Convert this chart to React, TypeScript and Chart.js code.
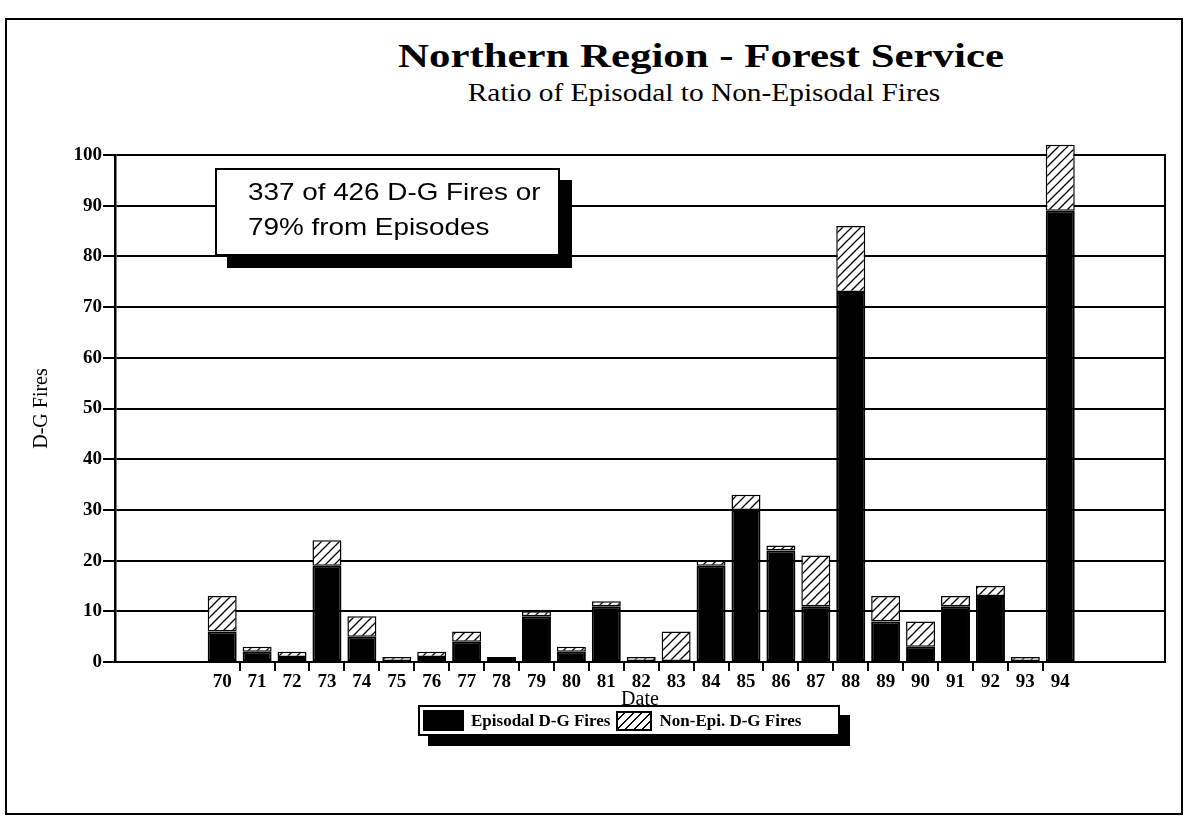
import React, { useEffect, useRef } from 'react';
import { Chart, registerables } from 'chart.js';

Chart.register(...registerables);

// ---- data ----
const YEARS = [70, 71, 72, 73, 74, 75, 76, 77, 78, 79, 80, 81, 82, 83, 84, 85, 86, 87, 88, 89, 90, 91, 92, 93, 94];
const EPISODAL = [6, 2, 1, 19, 5, 0, 1, 4, 1, 9, 2, 11, 0, 0, 19, 30, 22, 11, 73, 8, 3, 11, 13, 0, 89];
const NON_EPISODAL = [7, 1, 1, 5, 4, 1, 1, 2, 0, 1, 1, 1, 1, 6, 1, 3, 1, 10, 13, 5, 5, 2, 2, 1, 13];
const SERIES_LABELS = ['Episodal D-G Fires', 'Non-Epi. D-G Fires'];
const Y_MIN = 0;
const Y_MAX = 100;
const Y_STEP = 10;
const X_MIN = 66.93;
const X_MAX = 97;
const TITLE = 'Northern Region - Forest Service';
const SUBTITLE = 'Ratio of Episodal to Non-Episodal Fires';
const NOTE_LINES = ['337 of 426 D-G Fires or', '79% from Episodes'];
const X_TITLE = 'Date';
const Y_TITLE = 'D-G Fires';

const SERIF = "'Liberation Serif', 'Times New Roman', serif";
const SANS = "'Liberation Sans', Arial, sans-serif";

function makeHatch(): CanvasPattern | string {
  const s = 9;
  const c = document.createElement('canvas');
  c.width = s;
  c.height = s;
  const g = c.getContext('2d');
  if (!g) return '#fff';
  g.fillStyle = '#fff';
  g.fillRect(0, 0, s, s);
  g.strokeStyle = '#000';
  g.lineWidth = 1.3;
  g.beginPath();
  g.moveTo(-1, s + 1);
  g.lineTo(s + 1, -1);
  g.moveTo(-2, 2);
  g.lineTo(2, -2);
  g.moveTo(s - 2, s + 2);
  g.lineTo(s + 2, s - 2);
  g.stroke();
  return g.createPattern(c, 'repeat') || '#fff';
}

const HATCH_CSS = 'repeating-linear-gradient(-45deg, #fff 0px, #fff 4.5px, #000 4.5px, #000 6px)';

export default function App() {
  const ref = useRef<HTMLCanvasElement>(null);

  useEffect(() => {
    const canvas = ref.current;
    if (!canvas) return;
    const hatch = makeHatch();
    const chart = new Chart(canvas, {
      type: 'bar',
      data: {
        datasets: [
          {
            label: SERIES_LABELS[0],
            data: YEARS.map((x, i) => ({ x, y: EPISODAL[i] })),
            backgroundColor: '#000',
            borderColor: '#000',
            borderWidth: 2,
            borderSkipped: false,
            barPercentage: 0.83,
            categoryPercentage: 1,
            clip: false,
            stack: 's',
          } as any,
          {
            label: SERIES_LABELS[1],
            data: YEARS.map((x, i) => ({ x, y: NON_EPISODAL[i] })),
            backgroundColor: hatch,
            borderColor: '#000',
            borderWidth: 1.5,
            borderSkipped: false,
            barPercentage: 0.83,
            categoryPercentage: 1,
            clip: false,
            stack: 's',
          } as any,
        ],
      },
      options: {
        animation: false,
        responsive: false,
        devicePixelRatio: 1,
        layout: { padding: { left: 24, right: 17, top: 45, bottom: 0 } },
        plugins: {
          legend: { display: false },
          tooltip: { enabled: false },
          title: { display: false },
        },
        scales: {
          x: {
            type: 'linear',
            min: X_MIN,
            max: X_MAX,
            offset: false,
            stacked: true,
            afterBuildTicks: (s: any) => {
              s.ticks = YEARS.map((v) => ({ value: v }));
            },
            afterFit: (s: any) => {
              s.height = 50;
            },
            ticks: {
              autoSkip: false,
              maxRotation: 0,
              padding: 0,
              color: '#000',
              font: { family: SERIF, size: 19, weight: 'bold' },
              callback: (v: any) => String(v),
            },
            grid: {
              offset: true,
              drawOnChartArea: false,
              drawTicks: true,
              tickLength: 9,
              lineWidth: 2,
              color: (c: any) => (c.type === 'tick' && c.index > 0 ? '#000' : 'rgba(0,0,0,0)'),
            },
            border: { display: true, color: '#000', width: 2 },
            title: {
              display: true,
              text: X_TITLE,
              color: '#000',
              font: { family: SERIF, size: 20 },
              padding: 0,
            },
          },
          y: {
            type: 'linear',
            position: 'left',
            min: Y_MIN,
            max: Y_MAX,
            stacked: true,
            afterFit: (s: any) => {
              s.width = 85;
            },
            ticks: {
              stepSize: Y_STEP,
              autoSkip: false,
              padding: 1,
              color: '#000',
              font: { family: SERIF, size: 19, weight: 'bold' },
            },
            grid: {
              color: '#000',
              lineWidth: 2,
              drawTicks: true,
              tickLength: 12,
            },
            border: { display: true, color: '#000', width: 2.5 },
            title: {
              display: true,
              text: Y_TITLE,
              color: '#000',
              font: { family: SERIF, size: 20 },
              padding: 0,
            },
          },
          yR: {
            type: 'linear',
            position: 'right',
            min: Y_MIN,
            max: Y_MAX,
            afterFit: (s: any) => {
              s.width = 0;
            },
            ticks: { display: false },
            grid: { display: false },
            border: { display: true, color: '#000', width: 2 },
          },
        },
      } as any,
    });
    return () => chart.destroy();
  }, []);

  return (
    <div style={{ position: 'absolute', left: 0, top: 0, width: 1188, height: 821, background: '#fff' }}>
      <div
        style={{
          position: 'absolute',
          left: 5,
          top: 18,
          width: 1178,
          height: 797,
          border: '2px solid #000',
          boxSizing: 'border-box',
        }}
      />
      <div
        style={{
          position: 'absolute',
          left: 301,
          top: 39,
          width: 800,
          textAlign: 'center',
          fontFamily: SERIF,
          fontWeight: 'bold',
          fontSize: 34,
          lineHeight: '34px',
          whiteSpace: 'nowrap',
          transform: 'scaleX(1.26)',
          color: '#000',
        }}
      >
        {TITLE}
      </div>
      <div
        style={{
          position: 'absolute',
          left: 304,
          top: 80,
          width: 800,
          textAlign: 'center',
          fontFamily: SERIF,
          fontSize: 26,
          lineHeight: '26px',
          whiteSpace: 'nowrap',
          transform: 'scaleX(1.13)',
          color: '#000',
        }}
      >
        {SUBTITLE}
      </div>
      <canvas
        ref={ref}
        width={1176}
        height={602}
        style={{ position: 'absolute', left: 6, top: 110, width: 1176, height: 602 }}
      />
      <div
        style={{
          position: 'absolute',
          left: 215,
          top: 168,
          width: 345,
          height: 88,
          border: '2px solid #000',
          boxSizing: 'border-box',
          background: '#fff',
          boxShadow: '12px 12px 0 #000',
        }}
      >
        <div
          style={{
            position: 'absolute',
            left: 31,
            top: 4,
            fontFamily: SANS,
            fontSize: 24,
            lineHeight: '35px',
            whiteSpace: 'nowrap',
            transform: 'scaleX(1.16)',
            transformOrigin: 'left top',
            color: '#000',
          }}
        >
          {NOTE_LINES.map((t) => (
            <div key={t}>{t}</div>
          ))}
        </div>
      </div>
      <div
        style={{
          position: 'absolute',
          left: 418,
          top: 705,
          width: 422,
          height: 31,
          border: '2px solid #000',
          boxSizing: 'border-box',
          background: '#fff',
          boxShadow: '10px 10px 0 #000',
          display: 'flex',
          alignItems: 'center',
          paddingLeft: 3,
          fontFamily: SERIF,
          fontWeight: 'bold',
          fontSize: 17,
          color: '#000',
          whiteSpace: 'nowrap',
        }}
      >
        <span style={{ display: 'inline-block', width: 41, height: 21, background: '#000' }} />
        <span style={{ marginLeft: 7 }}>{SERIES_LABELS[0]}</span>
        <span
          style={{
            display: 'inline-block',
            marginLeft: 6,
            width: 36,
            height: 20,
            border: '2px solid #000',
            boxSizing: 'border-box',
            background: HATCH_CSS,
          }}
        />
        <span style={{ marginLeft: 7 }}>{SERIES_LABELS[1]}</span>
      </div>
    </div>
  );
}
